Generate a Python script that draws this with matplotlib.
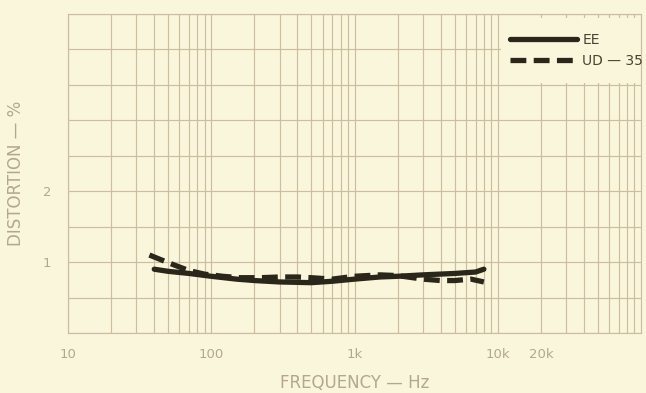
import numpy as np
import matplotlib
matplotlib.use("Agg")
import matplotlib.pyplot as plt
from matplotlib.ticker import LogLocator, NullFormatter
from matplotlib.patches import Rectangle

# curve readings (Hz, %)
ee_freq = [40, 50, 70, 100, 150, 200, 300, 500, 700, 1000, 1500, 2000, 3000, 5000, 7000, 8000]
ee_dist = [0.90, 0.87, 0.84, 0.80, 0.76, 0.74, 0.72, 0.71, 0.73, 0.76, 0.79, 0.80, 0.82, 0.84, 0.86, 0.90]

ud_freq = [37, 45, 55, 70, 90, 120, 160, 220, 300, 400, 500, 700, 1000, 1500, 2000, 3000, 4000, 5000, 6500, 8000]
ud_dist = [1.10, 1.03, 0.96, 0.88, 0.83, 0.80, 0.78, 0.78, 0.79, 0.79, 0.78, 0.76, 0.80, 0.82, 0.81, 0.76, 0.74, 0.74, 0.76, 0.72]

x_ticks = [10, 100, 1000, 10000, 20000]
x_labels = ["10", "100", "1k", "10k", "20k"]
y_ticks = np.arange(0, 4.51, 0.5)
y_labels = ["" if v not in (1.0, 2.0) else str(int(v)) for v in y_ticks]

bg = "#faf6dc"
grid_c = "#cdbd9f"
ink = "#2a2619"
text_c = "#b3a88c"

fig = plt.figure(figsize=(6.46, 3.93), dpi=100, facecolor=bg)
ax = fig.add_axes([68/646, 60/393, 573/646, 319/393])
ax.set_facecolor(bg)

ax.set_xscale("log")
ax.set_xlim(10, 1e5)
ax.set_ylim(0, 4.5)

ax.set_xticks(x_ticks)
ax.set_xticklabels(x_labels)
ax.xaxis.set_minor_locator(LogLocator(base=10, subs=np.arange(2, 10)))
ax.xaxis.set_minor_formatter(NullFormatter())
ax.set_yticks(y_ticks)
ax.set_yticklabels(y_labels)

ax.tick_params(which="both", length=0, colors=text_c, labelsize=9.5)
ax.tick_params(axis="x", pad=11)
ax.tick_params(axis="y", pad=12)

ax.grid(True, which="both", color=grid_c, linewidth=0.85)
ax.set_axisbelow(True)
for s in ax.spines.values():
    s.set_color(grid_c)
    s.set_linewidth(0.85)

# blank area behind the legend
ax.add_patch(Rectangle((10500, 3.53), 1e5 - 10500, 0.92, facecolor=bg,
                       edgecolor="none", zorder=1.5))

ax.plot(ee_freq, ee_dist, color=ink, linewidth=3.8, solid_capstyle="round",
        label="EE", zorder=3)
ax.plot(ud_freq, ud_dist, color=ink, linewidth=3.8, linestyle=(0, (3, 1.4)),
        label="UD \u2014 35", zorder=3)

leg = ax.legend(loc="upper right", bbox_to_anchor=(1.021, 0.97), frameon=False,
                handlelength=4.8, handletextpad=0.4, labelspacing=0.45,
                fontsize=10, borderaxespad=0.3)
for t in leg.get_texts():
    t.set_color("#4a4232")

ax.set_xlabel("FREQUENCY \u2014 Hz", color=text_c, fontsize=12, labelpad=9)
ax.set_ylabel("DISTORTION \u2014 %", color=text_c, fontsize=12)
ax.yaxis.set_label_coords(-0.075, 0.5)

fig.savefig("out.png", dpi=100, facecolor=bg)
